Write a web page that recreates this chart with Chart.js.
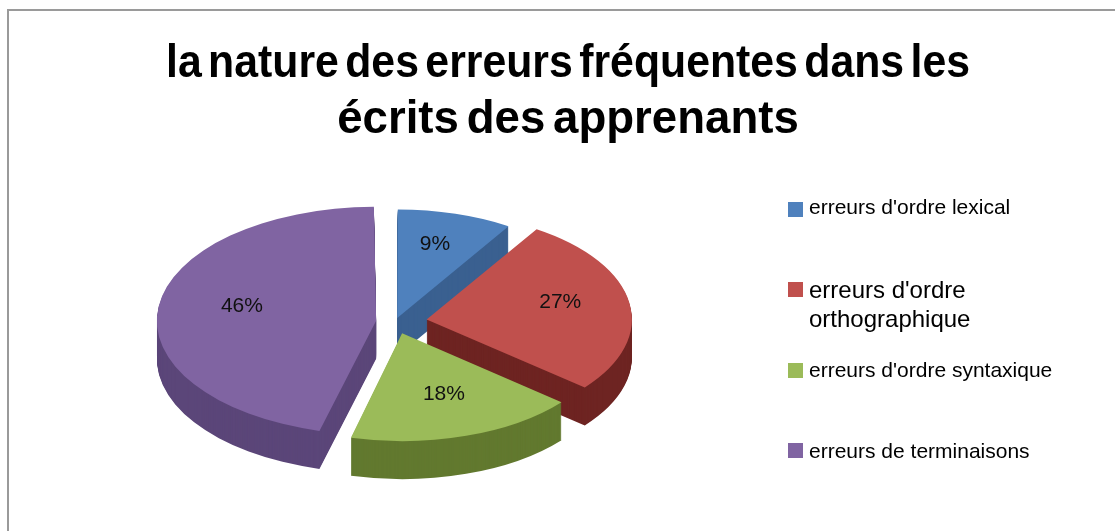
<!DOCTYPE html>
<html>
<head>
  <meta charset="utf-8">
  <title>Nature des erreurs</title>
  <script src="https://cdn.jsdelivr.net/npm/chart.js"></script>
  <style>
    html, body { margin: 0; padding: 0; background: #fff; }
    body { width: 1115px; height: 531px; overflow: hidden; position: relative; font-family: "Liberation Sans", Arial, sans-serif; }
    #frame { position: absolute; left: 7px; top: 9px; width: 1200px; height: 600px; border: 2px solid #9a9a9a; box-sizing: border-box; }
    #chart { position: absolute; left: 0; top: 0; }
    #legend { position: absolute; left: 788px; top: 0; width: 320px; color: #000; }
    .swatch { position: absolute; left: 0; width: 15px; height: 15px; }
    .txt { position: absolute; left: 21px; width: 275px; }
  </style>
</head>
<body>
  <div id="frame"></div>
  <canvas id="chart" width="1115" height="531"></canvas>
  <div id="legend"></div>

  <script>
    const titleLines = ['la nature des erreurs fréquentes dans les', 'écrits des apprenants'];
    const categories = [
      "erreurs d'ordre lexical",
      "erreurs d'ordre orthographique",
      "erreurs d'ordre syntaxique",
      "erreurs de terminaisons"
    ];
    const shares = [9, 27, 18, 46];

    const topColors = ['#4F81BD', '#C0504D', '#9BBB59', '#8064A2'];
    const sideColors = ['#3A6090', '#6E2422', '#62792F', '#5B4679'];

    // legend (html so the long label can wrap like the original)
    const legendTops = [195, 275, 358, 439];
    const swatchTops = [202, 282, 363, 443];
    const legendSizes = [21, 24, 21, 21];
    const legend = document.getElementById('legend');
    categories.forEach((name, i) => {
      const sw = document.createElement('div');
      sw.className = 'swatch';
      sw.style.top = swatchTops[i] + 'px';
      sw.style.background = topColors[i];
      legend.appendChild(sw);
      const t = document.createElement('div');
      t.className = 'txt';
      t.style.top = legendTops[i] + 'px';
      t.style.fontSize = legendSizes[i] + 'px';
      t.style.lineHeight = (legendSizes[i] === 24 ? 29 : 24) + 'px';
      t.textContent = name;
      legend.appendChild(t);
    });

    // title lines: horizontal squeeze + word spacing per line
    const titleFit = [{ sx: 0.91, ws: '-6px' }, { sx: 0.97, ws: '-5px' }];

    // squash the pie into an ellipse and give it a thickness
    const pie3d = {
      id: 'pie3d',
      beforeDatasetsDraw(chart, args, opts) {
        const ctx = chart.ctx;
        const arcs = chart.getDatasetMeta(0).data;
        const cx = arcs[0].x, cy = arcs[0].y;
        ctx.save();
        ctx.translate(opts.x, opts.y);
        ctx.scale(1, opts.tilt);
        ctx.translate(-cx, -cy);
        for (let d = opts.depth; d > 0; d--) {
          arcs.forEach((arc, i) => {
            const ghost = Object.create(arc);
            ghost.options = Object.assign({}, arc.options, {
              backgroundColor: sideColors[i],
              borderColor: sideColors[i]
            });
            ctx.save();
            ctx.translate(0, d / opts.tilt);
            ghost.draw(ctx);
            ctx.restore();
          });
        }
      },
      afterDatasetsDraw(chart, args, opts) {
        const ctx = chart.ctx;
        ctx.restore();
        const arcs = chart.getDatasetMeta(0).data;
        ctx.save();
        ctx.font = '21px "Liberation Sans", Arial, sans-serif';
        ctx.fillStyle = '#111';
        ctx.textAlign = 'center';
        ctx.textBaseline = 'middle';
        arcs.forEach((arc, i) => {
          const mid = (arc.startAngle + arc.endAngle) / 2;
          const r = arc.outerRadius * opts.labelAt + (arc.options.offset || 0) / 4;
          const x = opts.x + Math.cos(mid) * r;
          const y = opts.y + Math.sin(mid) * r * opts.tilt + opts.labelLift;
          ctx.fillText(shares[i] + '%', x, y);
        });
        ctx.restore();
      },
      afterDraw(chart, args, opts) {
        const ctx = chart.ctx;
        ctx.save();
        ctx.fillStyle = '#000';
        ctx.font = 'bold 47px "Liberation Sans", Arial, sans-serif';
        ctx.textAlign = 'center';
        ctx.textBaseline = 'alphabetic';
        titleLines.forEach((line, i) => {
          ctx.save();
          if ('wordSpacing' in ctx) ctx.wordSpacing = titleFit[i].ws;
          ctx.translate(568, 77 + i * 56);
          ctx.scale(titleFit[i].sx, 1);
          ctx.fillText(line, 0, 0);
          ctx.restore();
        });
        ctx.restore();
      }
    };

    new Chart(document.getElementById('chart').getContext('2d'), {
      type: 'pie',
      data: {
        labels: categories,
        datasets: [{
          data: shares,
          backgroundColor: topColors,
          borderWidth: 0,
          offset: [32, 128, 92, 76],
          radius: 205,
          clip: false
        }]
      },
      options: {
        responsive: false,
        animation: false,
        events: [],
        layout: { padding: { top: 150, right: 330 } },
        plugins: {
          legend: { display: false },
          title: { display: false },
          tooltip: { enabled: false },
          pie3d: { x: 395, y: 322, tilt: 0.52, depth: 38, labelAt: 0.66, labelLift: -6 }
        }
      },
      plugins: [pie3d]
    });
  </script>
</body>
</html>
